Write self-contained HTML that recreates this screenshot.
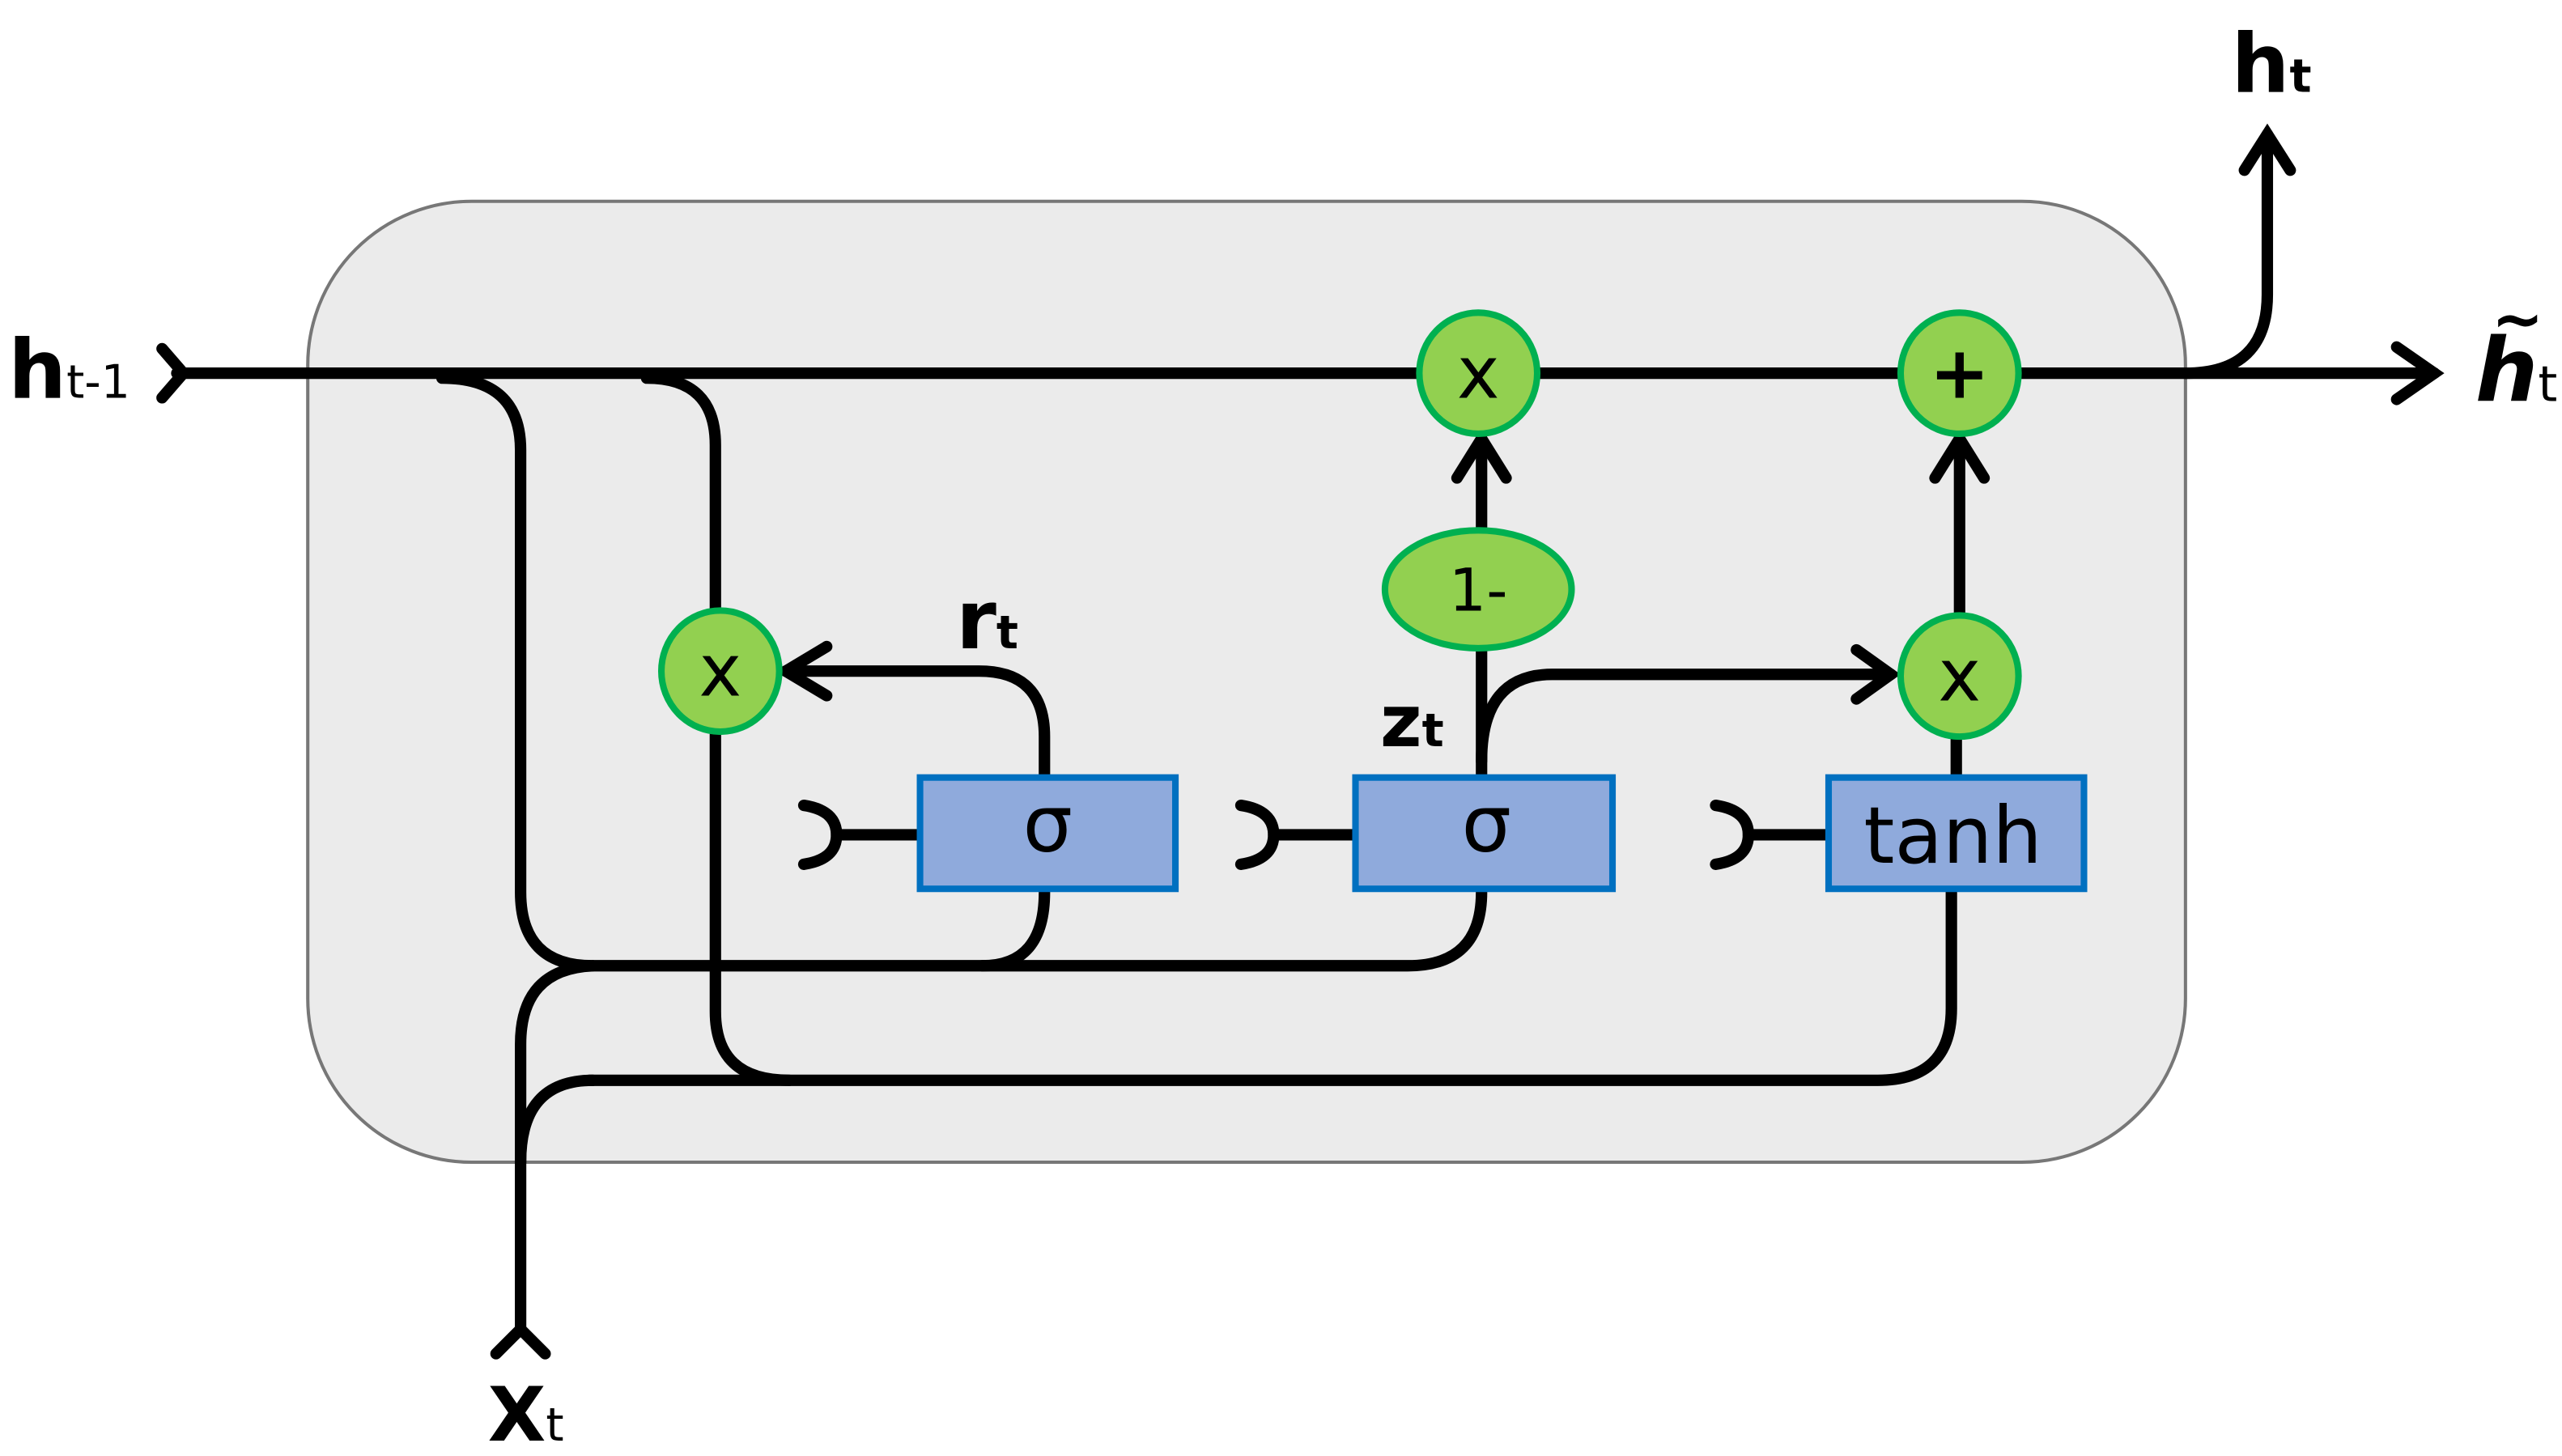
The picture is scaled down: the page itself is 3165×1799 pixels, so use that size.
<!DOCTYPE html>
<html><head><meta charset="utf-8"><style>
html,body{margin:0;padding:0;background:#fff;}
svg{display:block;}
text{font-family:"DejaVu Sans","Liberation Sans",sans-serif;}
</style></head><body>
<svg width="3165" height="1799" viewBox="0 0 1565 889.5" preserveAspectRatio="none" xmlns="http://www.w3.org/2000/svg">
<rect x="188" y="123" width="1147" height="587" rx="100" fill="#ebebeb" stroke="#777" stroke-width="2"/>
<g fill="none" stroke="#000" stroke-width="7" stroke-linecap="round">
<line x1="108" y1="228" x2="1487" y2="228"/>
<polyline points="99,213 112,228 99,243"/>
<polyline points="1464,212 1487,228 1464,244"/>
<path d="M1335,228 Q1385,228 1385,180 L1385,82"/>
<polyline points="1371,104 1385,82 1399,104"/>
<path d="M270,231 Q318,231 318,275 L318,545 Q318,590 362,590 L860,590 Q905,590 905,545"/>
<path d="M600,590 Q638,590 638,545"/>
<path d="M395,231 Q437,231 437,272 L437,618 Q437,660 482,660 L1147,660 Q1192,660 1192,616 L1192,545"/>
<line x1="360" y1="660" x2="482" y2="660"/>
<path d="M318,812 L318,638 Q318,592 362,590"/>
<path d="M318,710 Q318,660 362,660"/>
<polyline points="303,827 318,812 333,827"/>
<path d="M638,475 L638,450 Q638,410 598,410 L480,410"/>
<polyline points="505,395 480,410 505,425"/>
<line x1="905" y1="475" x2="905" y2="395"/>
<path d="M905,465 Q905,412 948,412 L1155,412"/>
<polyline points="1134,397 1155,412 1134,427"/>
<line x1="905" y1="323" x2="905" y2="268"/>
<polyline points="890,292 905,268 920,292"/>
<line x1="1195" y1="475" x2="1195" y2="445"/>
<line x1="1197" y1="378" x2="1197" y2="268"/>
<polyline points="1182,292 1197,268 1212,292"/>
<path d="M491,492 Q511,495 511,510 Q511,525 491,528"/><line x1="511" y1="510" x2="562" y2="510"/>
<path d="M758,492 Q778,495 778,510 Q778,525 758,528"/><line x1="778" y1="510" x2="828" y2="510"/>
<path d="M1048,492 Q1068,495 1068,510 Q1068,525 1048,528"/><line x1="1068" y1="510" x2="1117" y2="510"/>
</g>
<g fill="#92d050" stroke="#00b050" stroke-width="4">
<ellipse cx="903" cy="228" rx="36" ry="37"/>
<ellipse cx="1197" cy="228" rx="36" ry="37"/>
<ellipse cx="1197" cy="413" rx="36" ry="37"/>
<ellipse cx="440" cy="410" rx="36" ry="37"/>
<ellipse cx="903" cy="360" rx="57" ry="36"/>
</g>
<g fill="#8faadc" stroke="#0070c0" stroke-width="4">
<rect x="562" y="475" width="156" height="68"/>
<rect x="828" y="475" width="157" height="68"/>
<rect x="1117" y="475" width="156" height="68"/>
</g>
<g font-size="44" text-anchor="middle" fill="#000">
<text x="903" y="243">x</text>
<text x="1197" y="428">x</text>
<text x="440" y="425">x</text>
<text x="1197" y="243" font-weight="bold">+</text>
<text x="903" y="373" font-size="36">1-</text>
<text x="640" y="520" font-size="48">σ</text>
<text x="908" y="520" font-size="48">σ</text>
<text x="1193" y="527" font-size="48">tanh</text>
</g>
<g fill="#000" font-weight="bold">
<text x="5" y="243" font-size="50">h<tspan font-size="28" font-weight="normal">t-1</tspan></text>
<text x="1363" y="56" font-size="50">h<tspan font-size="28">t</tspan></text>
<text x="584" y="396" font-size="50">r<tspan font-size="28">t</tspan></text>
<text x="843" y="456" font-size="44">z<tspan font-size="28">t</tspan></text>
<text x="298" y="880" font-size="46">X<tspan font-size="28" font-weight="normal">t</tspan></text>
<text x="1512" y="245" font-size="54" font-style="italic" font-family="Liberation Serif,serif">h<tspan font-size="30" font-style="normal" font-weight="normal">t</tspan></text>
<text x="1522" y="208" font-size="38" font-family="Liberation Serif,serif">~</text>
</g>
</svg>
</body></html>
